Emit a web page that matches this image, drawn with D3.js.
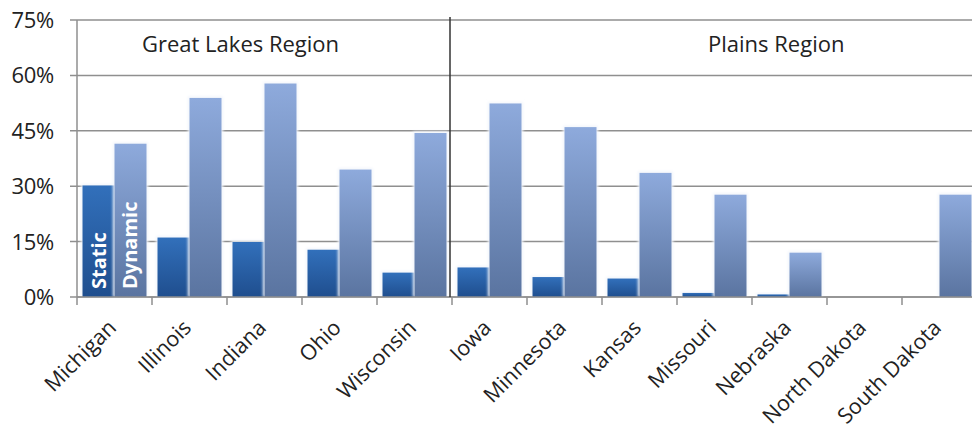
<!DOCTYPE html>
<html>
<head>
<meta charset="utf-8">
<script src="https://cdn.jsdelivr.net/npm/d3@7"></script>
<style>
  body { margin: 0; background: #fff; }
  svg { display: block; font-family: "Open Sans", Lato, sans-serif; }
</style>
</head>
<body>
<svg id="chart" width="972" height="432"></svg>
<script>
// values (percent)
var categories = ["Michigan", "Illinois", "Indiana", "Ohio", "Wisconsin", "Iowa",
    "Minnesota", "Kansas", "Missouri", "Nebraska", "North Dakota", "South Dakota"];
var staticVals = [30.2, 16.1, 14.9, 12.8, 6.6, 8.0, 5.4, 5.0, 1.1, 0.7, 0, 0];
var dynamicVals = [41.5, 53.9, 57.8, 34.5, 44.4, 52.4, 46.0, 33.6, 27.7, 12.0, 0, 27.7];
var yTicks = [0, 15, 30, 45, 60, 75];
var regionNames = ["Great Lakes Region", "Plains Region"];
var regionStarts = ["Michigan", "Iowa"];
var seriesNames = ["Static", "Dynamic"];

var svg = d3.select("#chart");
var plotLeft = 77, plotTop = 20, plotBottom = 297;
var step = 75;

var x = d3.scaleBand().domain(categories).range([plotLeft, plotLeft + step * categories.length]);
var x1 = d3.scaleBand().domain(seriesNames).range([0, x.bandwidth()]).paddingOuter(0.172);
var y = d3.scaleLinear().domain([0, 75]).range([plotBottom, plotTop]);

var defs = svg.append("defs");
function grad(id, c1, c2) {
    var g = defs.append("linearGradient").attr("id", id)
        .attr("x1", 0).attr("y1", 0).attr("x2", 0).attr("y2", 1);
    g.append("stop").attr("offset", "0%").attr("stop-color", c1);
    g.append("stop").attr("offset", "100%").attr("stop-color", c2);
}
grad("gStatic", "#3270bb", "#1f4e8e");
grad("gDynamic", "#8eaadc", "#5a74a0");
var glow = defs.append("filter").attr("id", "glow")
    .attr("x", "-20%").attr("y", "-20%").attr("width", "140%").attr("height", "140%");
glow.append("feGaussianBlur").attr("stdDeviation", 1.5);

// gridlines
svg.append("g").selectAll("line").data(yTicks).join("line")
    .attr("x1", plotLeft - 7).attr("x2", 972)
    .attr("y1", function(d) { return y(d); }).attr("y2", function(d) { return y(d); })
    .attr("stroke", "#8f8f8f").attr("stroke-width", 1.5);

// y axis line
svg.append("line").attr("x1", plotLeft).attr("x2", plotLeft).attr("y1", plotTop).attr("y2", plotBottom)
    .attr("stroke", "#8f8f8f").attr("stroke-width", 1.5);

// y labels
svg.append("g").selectAll("text").data(yTicks).join("text")
    .attr("x", 54).attr("y", function(d) { return y(d); }).attr("dy", "0.36em")
    .attr("text-anchor", "end").attr("font-size", 22).attr("fill", "#222")
    .attr("letter-spacing", "-0.3")
    .text(function(d) { return d + "%"; });

// bars
var rows = categories.map(function(c, i) {
    return { cat: c, vals: [{ s: "Static", v: staticVals[i] }, { s: "Dynamic", v: dynamicVals[i] }] };
});
var groups = svg.append("g").selectAll("g").data(rows).join("g")
    .attr("transform", function(d) { return "translate(" + x(d.cat) + ",0)"; });
var bars = groups.selectAll("g").data(function(d) { return d.vals.filter(function(b) { return b.v > 0; }); })
    .join("g");
bars.append("rect")
    .attr("x", function(d) { return x1(d.s) - 1.5; })
    .attr("y", function(d) { return y(d.v) - 1.5; })
    .attr("width", x1.bandwidth() + 3)
    .attr("height", function(d) { return plotBottom - y(d.v) + 1.5; })
    .attr("fill", "#f2f5fb").attr("filter", "url(#glow)");
bars.append("rect")
    .attr("x", function(d) { return x1(d.s); })
    .attr("y", function(d) { return y(d.v); })
    .attr("width", x1.bandwidth())
    .attr("height", function(d) { return plotBottom - y(d.v); })
    .attr("fill", function(d) { return d.s === "Static" ? "url(#gStatic)" : "url(#gDynamic)"; });

// series labels inside the first group
var first = rows[0];
svg.append("g").selectAll("text").data(first.vals).join("text")
    .attr("transform", function(d) {
        return "translate(" + (x(first.cat) + x1(d.s) + x1.bandwidth() / 2 + 7) + "," + (plotBottom - 8) + ") rotate(-90)";
    })
    .attr("font-size", 20).attr("font-weight", "bold").attr("fill", "#fff")
    .text(function(d) { return d.s; });

// x axis line and ticks
svg.append("line").attr("x1", plotLeft).attr("x2", 972).attr("y1", plotBottom).attr("y2", plotBottom)
    .attr("stroke", "#8f8f8f").attr("stroke-width", 1.5);
svg.append("g").selectAll("line").data(categories).join("line")
    .attr("x1", function(d) { return x(d); }).attr("x2", function(d) { return x(d); })
    .attr("y1", plotBottom).attr("y2", plotBottom + 8)
    .attr("stroke", "#8f8f8f").attr("stroke-width", 1.5);

// region divider
svg.append("line")
    .attr("x1", x(regionStarts[1]) - 2).attr("x2", x(regionStarts[1]) - 2)
    .attr("y1", plotTop - 3).attr("y2", plotBottom)
    .attr("stroke", "#333").attr("stroke-width", 1.5);

// region labels
var regionOffsets = [65, 256];
svg.append("g").selectAll("text").data(regionNames).join("text")
    .attr("x", function(d, i) { return x(regionStarts[i]) + regionOffsets[i]; })
    .attr("y", 44).attr("dy", "0.35em")
    .attr("font-size", 22).attr("fill", "#222")
    .text(function(d) { return d; });

// category labels
svg.append("g").selectAll("text").data(categories).join("text")
    .attr("transform", function(d) {
        return "translate(" + (x(d) + x.bandwidth() / 2 + 3) + "," + (plotBottom + 32) + ") rotate(-45)";
    })
    .attr("text-anchor", "end").attr("font-size", 21.5).attr("fill", "#222")
    .text(function(d) { return d; });
</script>
</body>
</html>
